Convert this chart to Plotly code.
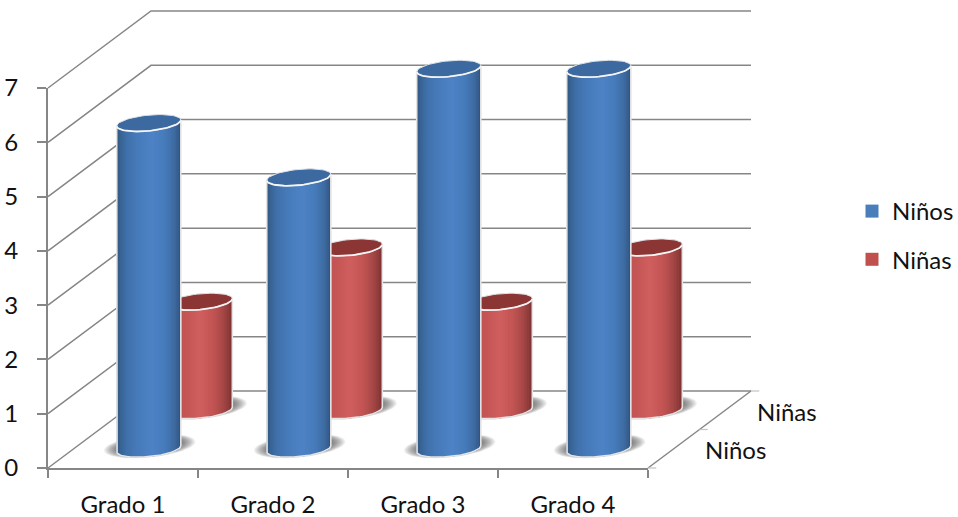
import numpy as np
import plotly.graph_objects as go

# Chart data
categories = ["Grado 1", "Grado 2", "Grado 3", "Grado 4"]
ninos = [6, 5, 7, 7]
ninas = [2, 3, 2, 3]
series_names = ["Niños", "Niñas"]
y_ticks = [0, 1, 2, 3, 4, 5, 6, 7]

# Figure layout in pixels: the front face of the chart box
FIG_W, FIG_H = 958, 517
LEFT, RIGHT, TOP, BOTTOM = 48, 648, 88, 468
UNIT_X = (RIGHT - LEFT) / len(categories)
UNIT_Y = (BOTTOM - TOP) / y_ticks[-1]

# Oblique projection: one full unit of depth shifts a point by (DX, DY) in axis units
DX = 103 / UNIT_X
DY = 77 / UNIT_Y
RX = 0.2      # cylinder radius along the category direction
RD = 0.11     # cylinder radius along the depth direction
N_STRIPS = 40

GRID = "#868686"
FONT = "Lato, Carlito, Calibri, sans-serif"
TEXT = "#111111"


def project(cat, value, depth):
    return cat + depth * DX, value + depth * DY


def mix_stops(stops, f):
    xs = [s[0] for s in stops]
    rgb = [np.interp(f, xs, [int(s[1][i:i + 2], 16) for s in stops]) for i in (1, 3, 5)]
    return "rgb(%d,%d,%d)" % tuple(round(c) for c in rgb)


BLUE_STOPS = [(0, "#2f5685"), (0.05, "#37618f"), (0.15, "#3f70aa"), (0.3, "#4679b8"),
              (0.55, "#4d83c6"), (0.75, "#467bbb"), (0.88, "#3f6da5"), (0.96, "#375e90"), (1, "#2f4d75")]
RED_STOPS = [(0, "#a04444"), (0.15, "#bd5050"), (0.5, "#d05f5e"), (0.7, "#c25453"),
             (0.85, "#a84847"), (0.95, "#8c3a39"), (1, "#7a302f")]
SERIES = [
    dict(name=series_names[0], values=ninos, depth=0.25, stops=BLUE_STOPS, cap="#3c699f", key="#4a7ebb"),
    dict(name=series_names[1], values=ninas, depth=0.75, stops=RED_STOPS, cap="#8b3634", key="#c0504d"),
]

W = np.hypot(RX, RD * DX)
PHI = np.arctan2(RD * DX, RX)


def ellipse(cx, cy, u, sx=1.0, sy=1.0):
    """Point on a projected circle, with u measured from the silhouette's right end."""
    return cx + sx * W * np.cos(u), cy + sy * RD * DY * np.sin(u + PHI)


def with_breaks(parts):
    xs, ys = [], []
    for px, py in parts:
        xs += list(px) + [None]
        ys += list(py) + [None]
    return xs, ys


fig = go.Figure()
n_cat = len(categories)

# Side wall, back wall and floor edge
lines = []
for v in y_ticks:
    x0, y0 = project(-0.5, v, 0)
    x1, y1 = project(-0.5, v, 1)
    x2, y2 = project(n_cat - 0.5, v, 1)
    lines.append(([x0, x1, x2], [y0, y1, y2]))
ex0, ey0 = project(n_cat - 0.5, 0, 0)
ex1, ey1 = project(n_cat - 0.5, 0, 1)
lines.append(([ex0, ex1], [ey0, ey1]))
gx, gy = with_breaks(lines)
fig.add_trace(go.Scatter(x=gx, y=gy, mode="lines", line=dict(color=GRID, width=1.5),
                         hoverinfo="skip", showlegend=False))

# Depth-axis tick marks
ticks = []
for d in (0, 0.5, 1):
    tx, ty = project(n_cat - 0.5, 0, d)
    ticks.append(([tx, tx + 0.055], [ty, ty]))
tx_, ty_ = with_breaks(ticks)
fig.add_trace(go.Scatter(x=tx_, y=ty_, mode="lines", line=dict(color="#c4c4c4", width=1.2),
                         hoverinfo="skip", showlegend=False))

# Soft shadows on the floor under every cylinder
theta = np.linspace(0, 2 * np.pi, 61)
for s in reversed(SERIES):
    for k in range(12):
        t = k / 11
        rings = []
        for i, v in enumerate(s["values"]):
            cx, cy = project(i, 0, s["depth"])
            rings.append(ellipse(cx + 0.006, cy + 0.05, theta, 1.43 - 0.38 * t, 1.45 - 0.3 * t))
        rx_, ry_ = with_breaks(rings)
        fig.add_trace(go.Scatter(x=rx_, y=ry_, mode="lines", fill="toself", line=dict(width=0),
                                 fillcolor="rgba(40,40,40,0.06)", hoverinfo="skip",
                                 showlegend=False))

# Cylinders, back row first: each shade paints from its own edge to the right side
edges = np.linspace(-1, 1, N_STRIPS + 1)
us = 2 * np.pi - np.arccos(edges)
for s in reversed(SERIES):
    for j in range(N_STRIPS):
        polys = []
        for i, v in enumerate(s["values"]):
            cx, cy = project(i, 0, s["depth"])
            bx, by = ellipse(cx, cy, us[j:])
            tx2, ty2 = ellipse(cx, cy + v, us[j:])
            polys.append((list(bx) + list(tx2[::-1]) + [bx[0]],
                          list(by) + list(ty2[::-1]) + [by[0]]))
        px, py = with_breaks(polys)
        color = mix_stops(s["stops"], (j + 0.5) / N_STRIPS)
        fig.add_trace(go.Scatter(x=px, y=py, mode="lines", fill="toself", fillcolor=color,
                                 line=dict(width=0), hoverinfo="skip", showlegend=False))

    outline, caps, rims = [], [], []
    arc = np.linspace(np.pi, 2 * np.pi, 41)
    for i, v in enumerate(s["values"]):
        cx, cy = project(i, 0, s["depth"])
        bx, by = ellipse(cx, cy, arc)
        tx2, ty2 = ellipse(cx, cy + v, arc)
        outline.append((list(tx2[:1]) + list(bx) + list(tx2[-1:]),
                        list(ty2[:1]) + list(by) + list(ty2[-1:])))
        caps.append(ellipse(cx, cy + v, theta))
        rims.append((tx2, ty2))
    ox, oy = with_breaks(outline)
    fig.add_trace(go.Scatter(x=ox, y=oy, mode="lines", line=dict(color="#e4e4e4", width=1.6),
                             hoverinfo="skip", showlegend=False))
    cx_, cy_ = with_breaks(caps)
    fig.add_trace(go.Scatter(x=cx_, y=cy_, mode="lines", fill="toself", fillcolor=s["cap"],
                             line=dict(color="#dfe3e8", width=1), hoverinfo="skip",
                             showlegend=False))
    rx_, ry_ = with_breaks(rims)
    fig.add_trace(go.Scatter(x=rx_, y=ry_, mode="lines", line=dict(color="#f4f4f4", width=1.8),
                             hoverinfo="skip", showlegend=False))

# Legend entries
for idx, s in enumerate(SERIES):
    fig.add_trace(go.Scatter(x=[None], y=[None], mode="markers", name=s["name"],
                             legendgroup=s["name"], hoverinfo="skip",
                             marker=dict(symbol="square", size=13, color=s["key"])))

# Front-face axes live on their own pair so ticks sit on the chart box
fig.add_trace(go.Scatter(x=[-0.5], y=[0], xaxis="x2", yaxis="y2", mode="markers",
                         marker=dict(opacity=0), hoverinfo="skip", showlegend=False))

# Depth-axis labels
annotations = []
for s, shift in zip(SERIES, (29, 30)):
    ax_, ay_ = project(n_cat - 0.5, 0, s["depth"])
    annotations.append(dict(x=ax_, y=ay_, text=s["name"], showarrow=False, xanchor="left",
                            yanchor="middle", xshift=shift, yshift=-1,
                            font=dict(family=FONT, size=24, color=TEXT)))

axis_font = dict(family=FONT, size=24, color=TEXT)
fig.update_layout(
    width=FIG_W, height=FIG_H,
    margin=dict(l=0, r=0, t=0, b=0, autoexpand=False),
    paper_bgcolor="white", plot_bgcolor="rgba(0,0,0,0)",
    font=axis_font,
    annotations=annotations,
    # Full-page scale on which the projected marks are drawn
    xaxis=dict(domain=[0, 1], range=[-0.5 - LEFT / UNIT_X, -0.5 + (FIG_W - LEFT) / UNIT_X],
               visible=False, fixedrange=True),
    yaxis=dict(domain=[0, 1], range=[-(FIG_H - BOTTOM) / UNIT_Y, BOTTOM / UNIT_Y],
               visible=False, fixedrange=True),
    xaxis2=dict(domain=[LEFT / FIG_W, RIGHT / FIG_W], anchor="y2",
                range=[-0.5, n_cat - 0.5], tickvals=list(range(n_cat)), ticktext=categories,
                ticks="", showgrid=False, zeroline=False, showline=True, linecolor=GRID, linewidth=2,
                tickfont=axis_font, ticklabelstandoff=14, automargin=False,
                minor=dict(tickvals=[i - 0.5 for i in range(n_cat + 1)], ticks="outside",
                           ticklen=8, tickwidth=1.5, tickcolor=GRID, showgrid=False)),
    yaxis2=dict(domain=[1 - BOTTOM / FIG_H, 1 - TOP / FIG_H], anchor="x2",
                range=[0, y_ticks[-1]], tickvals=y_ticks, ticks="outside", ticklen=9, tickwidth=1.5,
                tickcolor=GRID, showgrid=False, zeroline=False, showline=True, linecolor=GRID,
                linewidth=2, tickfont=axis_font, ticklabelstandoff=14, automargin=False),
    showlegend=True,
    legend=dict(xref="container", yref="container", x=852 / FIG_W, y=1 - 189 / FIG_H,
                xanchor="left", yanchor="top", font=axis_font, tracegroupgap=14,
                bgcolor="rgba(0,0,0,0)", itemclick=False, itemdoubleclick=False),
)

fig.write_html("out.html")
